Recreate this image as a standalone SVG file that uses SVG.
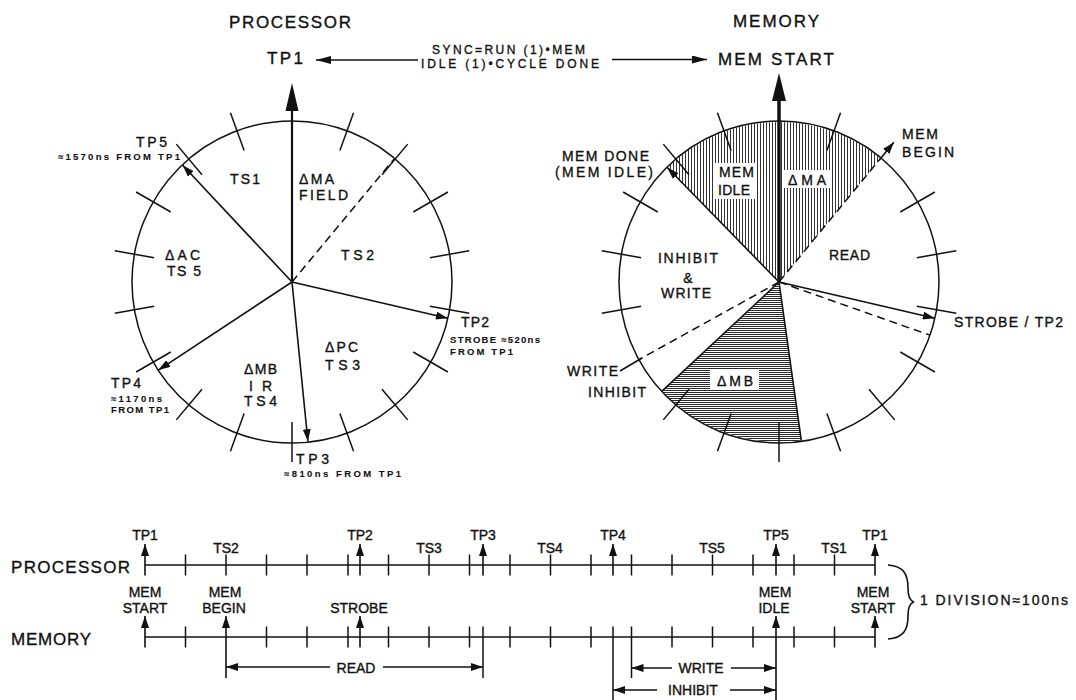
<svg xmlns="http://www.w3.org/2000/svg" width="1076" height="700" viewBox="0 0 1076 700">
<style>
text{font-family:"Liberation Sans",Arial,sans-serif;fill:#111;stroke:#111;stroke-width:0.35}
.h{font-size:17px}
.l{font-size:14px}
.m{font-size:12px}
.n{font-size:9.5px;font-weight:bold;stroke-width:0.1}
.c{fill:none;stroke:#111;stroke-width:1.5}
.k{stroke:#111;stroke-width:1.5}
.a{stroke:#111;stroke-width:1.6;fill:none}
.d{stroke:#111;stroke-width:1.5;stroke-dasharray:8 5;fill:none}
.box{fill:#fff}
</style>
<defs>
<marker id="ah" markerUnits="userSpaceOnUse" markerWidth="12" markerHeight="8" refX="12" refY="4" orient="auto"><path d="M0,0 L12,4 L0,8 z" fill="#111"/></marker>
<marker id="ah2" markerUnits="userSpaceOnUse" markerWidth="15" markerHeight="8" refX="15" refY="4" orient="auto"><path d="M0,0 L15,4 L0,8 z" fill="#111"/></marker>
<pattern id="hv" width="3" height="3" patternUnits="userSpaceOnUse"><rect width="3" height="3" fill="#fff"/><rect x="1" y="0" width="1" height="3" fill="#333"/></pattern>
<pattern id="hh" width="2" height="2" patternUnits="userSpaceOnUse"><rect width="2" height="2" fill="#fff"/><rect x="0" y="0" width="2" height="1" fill="#2a2a2a"/></pattern>
</defs>

<g id="titles">
<text class="h" x="229" y="28" textLength="122">PROCESSOR</text>
<text class="h" x="733" y="27" textLength="86">MEMORY</text>
</g>

<g id="sync">
<text class="h" x="267" y="64" textLength="36">TP1</text>
<text class="h" x="718" y="65" textLength="116">MEM START</text>
<text class="m" x="432" y="53.5" textLength="153">SYNC=RUN (1)•MEM</text>
<text class="m" x="421" y="67.5" textLength="178">IDLE (1)•CYCLE DONE</text>
</g>

<g id="processor-circle">
<ellipse class="c" cx="292" cy="282" rx="160" ry="161"/>
<g transform="translate(292 282)" class="k">
<line x1="0" y1="-140" x2="0" y2="-180" transform="rotate(20)"/>
<line x1="0" y1="-140" x2="0" y2="-180" transform="rotate(40)"/>
<line x1="0" y1="-140" x2="0" y2="-180" transform="rotate(60)"/>
<line x1="0" y1="-140" x2="0" y2="-180" transform="rotate(80)"/>
<line x1="0" y1="-140" x2="0" y2="-180" transform="rotate(100)"/>
<line x1="0" y1="-140" x2="0" y2="-180" transform="rotate(120)"/>
<line x1="0" y1="-140" x2="0" y2="-180" transform="rotate(140)"/>
<line x1="0" y1="-140" x2="0" y2="-180" transform="rotate(160)"/>
<line x1="0" y1="-140" x2="0" y2="-180" transform="rotate(180)"/>
<line x1="0" y1="-140" x2="0" y2="-180" transform="rotate(200)"/>
<line x1="0" y1="-140" x2="0" y2="-180" transform="rotate(220)"/>
<line x1="0" y1="-140" x2="0" y2="-180" transform="rotate(240)"/>
<line x1="0" y1="-140" x2="0" y2="-180" transform="rotate(260)"/>
<line x1="0" y1="-140" x2="0" y2="-180" transform="rotate(280)"/>
<line x1="0" y1="-140" x2="0" y2="-180" transform="rotate(300)"/>
<line x1="0" y1="-140" x2="0" y2="-180" transform="rotate(320)"/>
<line x1="0" y1="-140" x2="0" y2="-180" transform="rotate(340)"/>
</g>
<text class="l" x="136" y="147" textLength="31">TP5</text>
<text class="n" x="58" y="160" textLength="122">≈1570ns FROM TP1</text>
<text class="l" x="230" y="184" textLength="30">TS1</text>
<text class="l" x="299" y="184" textLength="35">ΔMA</text>
<text class="l" x="299" y="200" textLength="49">FIELD</text>
<text class="l" x="341" y="260" textLength="33">TS2</text>
<text class="l" x="165" y="260" textLength="35">ΔAC</text>
<text class="l" x="167" y="276" textLength="34">TS 5</text>
<text class="l" x="461" y="327" textLength="28">TP2</text>
<text class="n" x="450" y="343" textLength="90">STROBE ≈520ns</text>
<text class="n" x="450" y="355" textLength="63">FROM TP1</text>
<text class="l" x="325" y="352" textLength="33">ΔPC</text>
<text class="l" x="325" y="370" textLength="35">TS3</text>
<text class="l" x="244" y="374" textLength="33">ΔMB</text>
<text class="l" x="249" y="391" textLength="23">IR</text>
<text class="l" x="244" y="406" textLength="33">TS4</text>
<text class="l" x="111" y="388" textLength="30">TP4</text>
<text class="n" x="111" y="402" textLength="51">≈1170ns</text>
<text class="n" x="111" y="413" textLength="58">FROM TP1</text>
<text class="l" x="296" y="464" textLength="33">TP3</text>
<text class="n" x="284" y="477" textLength="117">≈810ns FROM TP1</text>
</g>

<g id="memory-circle">
<path d="M779,282 L667.3,167.5 A160,160 0 0,1 880.6,158.4 Z" fill="url(#hv)"/>
<path d="M779,282 L801.3,440.4 A160,160 0 0,1 662,391.1 Z" fill="url(#hh)"/>
<ellipse class="c" cx="779" cy="282" rx="160" ry="161"/>
<g transform="translate(779 282)" class="k">
<line x1="0" y1="-140" x2="0" y2="-180" transform="rotate(20)"/>
<line x1="0" y1="-140" x2="0" y2="-180" transform="rotate(60)"/>
<line x1="0" y1="-140" x2="0" y2="-180" transform="rotate(80)"/>
<line x1="0" y1="-140" x2="0" y2="-180" transform="rotate(100)"/>
<line x1="0" y1="-140" x2="0" y2="-180" transform="rotate(120)"/>
<line x1="0" y1="-140" x2="0" y2="-180" transform="rotate(140)"/>
<line x1="0" y1="-140" x2="0" y2="-180" transform="rotate(160)"/>
<line x1="0" y1="-140" x2="0" y2="-180" transform="rotate(180)"/>
<line x1="0" y1="-140" x2="0" y2="-180" transform="rotate(200)"/>
<line x1="0" y1="-140" x2="0" y2="-180" transform="rotate(220)"/>
<line x1="0" y1="-140" x2="0" y2="-180" transform="rotate(260)"/>
<line x1="0" y1="-140" x2="0" y2="-180" transform="rotate(280)"/>
<line x1="0" y1="-140" x2="0" y2="-180" transform="rotate(300)"/>
<line x1="0" y1="-140" x2="0" y2="-180" transform="rotate(320)"/>
<line x1="0" y1="-140" x2="0" y2="-180" transform="rotate(340)"/>
</g>
<rect class="box" x="713" y="163" width="44" height="36"/>
<rect class="box" x="782" y="170" width="50" height="18"/>
<rect class="box" x="710" y="369" width="49" height="20"/>
<text class="l" x="902" y="139" textLength="36">MEM</text>
<text class="l" x="902" y="157" textLength="52">BEGIN</text>
<text class="l" x="562" y="161" textLength="87">MEM DONE</text>
<text class="l" x="555" y="177" textLength="98">(MEM IDLE)</text>
<text class="l" x="719" y="177" textLength="35">MEM</text>
<text class="l" x="718" y="195" textLength="32">IDLE</text>
<text class="l" x="788" y="185" textLength="38">ΔMA</text>
<text class="l" x="829" y="260" textLength="41">READ</text>
<text class="l" x="658" y="263" textLength="60">INHIBIT</text>
<text class="l" x="688" y="283" text-anchor="middle">&amp;</text>
<text class="l" x="661" y="298" textLength="50">WRITE</text>
<text class="l" x="954" y="327" textLength="109">STROBE / TP2</text>
<text class="l" x="567" y="376" textLength="51">WRITE</text>
<text class="l" x="588" y="397" textLength="58">INHIBIT</text>
<text class="l" x="717" y="386" textLength="36">ΔMB</text>
</g>

<g id="timeline-labels">
<text class="h" x="11" y="573" textLength="119">PROCESSOR</text>
<text class="h" x="11" y="645" textLength="80">MEMORY</text>
<g class="l" text-anchor="middle">
<text x="145" y="540">TP1</text>
<text x="360" y="540">TP2</text>
<text x="483" y="540">TP3</text>
<text x="613" y="540">TP4</text>
<text x="776" y="540">TP5</text>
<text x="875" y="540">TP1</text>
<text x="226" y="553">TS2</text>
<text x="429" y="553">TS3</text>
<text x="550" y="553">TS4</text>
<text x="712" y="553">TS5</text>
<text x="834" y="553">TS1</text>
<text x="145" y="597">MEM</text>
<text x="145" y="613">START</text>
<text x="225" y="597">MEM</text>
<text x="224" y="613">BEGIN</text>
<text x="359" y="613">STROBE</text>
<text x="775" y="597">MEM</text>
<text x="774" y="613">IDLE</text>
<text x="873" y="597">MEM</text>
<text x="873" y="613">START</text>
<text x="356" y="673">READ</text>
<text x="701" y="673">WRITE</text>
<text x="693" y="695">INHIBIT</text>
</g>
<text class="l" x="920" y="605" textLength="148">1 DIVISION≈100ns</text>
</g>

<g id="connectors">
<line x1="418" y1="60" x2="316" y2="60" class="a" marker-end="url(#ah2)"/>
<line x1="612" y1="59.5" x2="707" y2="59.5" class="a" marker-end="url(#ah2)"/>
<line x1="292" y1="282" x2="292" y2="110" stroke="#111" stroke-width="2.2"/>
<polygon points="292,83 285.5,111 298.5,111" fill="#111"/>
<line x1="779" y1="282" x2="779" y2="100" stroke="#111" stroke-width="3.5"/>
<polygon points="779,73 772,101 786,101" fill="#111"/>
<g transform="translate(292 282)">
<line x1="0" y1="0" x2="0" y2="-160" class="a" transform="rotate(103.1)" marker-end="url(#ah)"/>
<line x1="0" y1="0" x2="0" y2="-160" class="a" transform="rotate(174.3)" marker-end="url(#ah)"/>
<line x1="0" y1="0" x2="0" y2="-160" class="a" transform="rotate(236.6)" marker-end="url(#ah)"/>
<line x1="0" y1="0" x2="0" y2="-160" class="a" transform="rotate(316.9)" marker-end="url(#ah)"/>
<line x1="0" y1="0" x2="0" y2="-160" class="d" transform="rotate(39.7)"/>
</g>
<g transform="translate(779 282)">
<line x1="0" y1="0" x2="0" y2="-160" class="a" transform="rotate(315.7)" marker-end="url(#ah)"/>
<line x1="0" y1="0" x2="0" y2="-160" class="d" transform="rotate(39.4)"/>
<line x1="0" y1="-158" x2="0" y2="-181" class="a" transform="rotate(39.4)" marker-end="url(#ah)"/>
<line x1="0" y1="0" x2="0" y2="-160" class="a" transform="rotate(103.1)" marker-end="url(#ah)"/>
<line x1="0" y1="0" x2="0" y2="-160" class="d" transform="rotate(109.4)"/>
<line x1="0" y1="0" x2="0" y2="-160" class="a" transform="rotate(172)"/>
<line x1="0" y1="0" x2="0" y2="-160" class="a" transform="rotate(227)"/>
<line x1="0" y1="0" x2="0" y2="-160" class="d" transform="rotate(241)"/>
</g>
<line x1="620" y1="371" x2="642" y2="358" class="a"/>

<g id="processor-line">
<line x1="145" y1="565" x2="875" y2="565" class="a"/>
<g class="k">
<line x1="185.5" y1="554.5" x2="185.5" y2="575.5"/>
<line x1="226" y1="554.5" x2="226" y2="575.5"/>
<line x1="266.5" y1="554.5" x2="266.5" y2="575.5"/>
<line x1="307" y1="554.5" x2="307" y2="575.5"/>
<line x1="348" y1="554.5" x2="348" y2="575.5"/>
<line x1="388.5" y1="554.5" x2="388.5" y2="575.5"/>
<line x1="429" y1="554.5" x2="429" y2="575.5"/>
<line x1="469.5" y1="554.5" x2="469.5" y2="575.5"/>
<line x1="510" y1="554.5" x2="510" y2="575.5"/>
<line x1="550.5" y1="554.5" x2="550.5" y2="575.5"/>
<line x1="591" y1="554.5" x2="591" y2="575.5"/>
<line x1="631.5" y1="554.5" x2="631.5" y2="575.5"/>
<line x1="672" y1="554.5" x2="672" y2="575.5"/>
<line x1="712.5" y1="554.5" x2="712.5" y2="575.5"/>
<line x1="753" y1="554.5" x2="753" y2="575.5"/>
<line x1="794" y1="554.5" x2="794" y2="575.5"/>
<line x1="834.5" y1="554.5" x2="834.5" y2="575.5"/>
</g>
<line x1="145" y1="575.5" x2="145" y2="544" class="a" marker-end="url(#ah)"/>
<line x1="360" y1="575.5" x2="360" y2="544" class="a" marker-end="url(#ah)"/>
<line x1="483" y1="575.5" x2="483" y2="544" class="a" marker-end="url(#ah)"/>
<line x1="613" y1="575.5" x2="613" y2="544" class="a" marker-end="url(#ah)"/>
<line x1="776" y1="575.5" x2="776" y2="544" class="a" marker-end="url(#ah)"/>
<line x1="875" y1="575.5" x2="875" y2="544" class="a" marker-end="url(#ah)"/>
</g>

<g id="memory-line">
<line x1="145" y1="637" x2="875" y2="637" class="a"/>
<g class="k">
<line x1="185.5" y1="626.5" x2="185.5" y2="647.5"/>
<line x1="266.5" y1="626.5" x2="266.5" y2="647.5"/>
<line x1="307" y1="626.5" x2="307" y2="647.5"/>
<line x1="348" y1="626.5" x2="348" y2="647.5"/>
<line x1="388.5" y1="626.5" x2="388.5" y2="647.5"/>
<line x1="429" y1="626.5" x2="429" y2="647.5"/>
<line x1="469.5" y1="626.5" x2="469.5" y2="647.5"/>
<line x1="510" y1="626.5" x2="510" y2="647.5"/>
<line x1="550.5" y1="626.5" x2="550.5" y2="647.5"/>
<line x1="591" y1="626.5" x2="591" y2="647.5"/>
<line x1="672" y1="626.5" x2="672" y2="647.5"/>
<line x1="712.5" y1="626.5" x2="712.5" y2="647.5"/>
<line x1="753" y1="626.5" x2="753" y2="647.5"/>
<line x1="794" y1="626.5" x2="794" y2="647.5"/>
<line x1="834.5" y1="626.5" x2="834.5" y2="647.5"/>
<line x1="483" y1="626.5" x2="483" y2="678"/>
<line x1="613" y1="626.5" x2="613" y2="700"/>
<line x1="631.5" y1="626.5" x2="631.5" y2="678"/>
</g>
<line x1="145" y1="647.5" x2="145" y2="616" class="a" marker-end="url(#ah)"/>
<line x1="226" y1="678" x2="226" y2="616" class="a" marker-end="url(#ah)"/>
<line x1="360" y1="647.5" x2="360" y2="616" class="a" marker-end="url(#ah)"/>
<line x1="776" y1="700" x2="776" y2="616" class="a" marker-end="url(#ah)"/>
<line x1="875" y1="647.5" x2="875" y2="616" class="a" marker-end="url(#ah)"/>
<line x1="330" y1="667" x2="226" y2="667" class="a" marker-end="url(#ah)"/>
<line x1="383" y1="667" x2="483" y2="667" class="a" marker-end="url(#ah)"/>
<line x1="672" y1="668" x2="631.5" y2="668" class="a" marker-end="url(#ah)"/>
<line x1="731" y1="668" x2="776" y2="668" class="a" marker-end="url(#ah)"/>
<line x1="657" y1="690" x2="613" y2="690" class="a" marker-end="url(#ah)"/>
<line x1="730" y1="690" x2="776" y2="690" class="a" marker-end="url(#ah)"/>
</g>
<path d="M888,565 C904,566 908,575 908,588 C908,597 910,601 914,602 C910,603 908,607 908,616 C908,629 904,638 888,639" class="a"/>
</g>
</svg>
